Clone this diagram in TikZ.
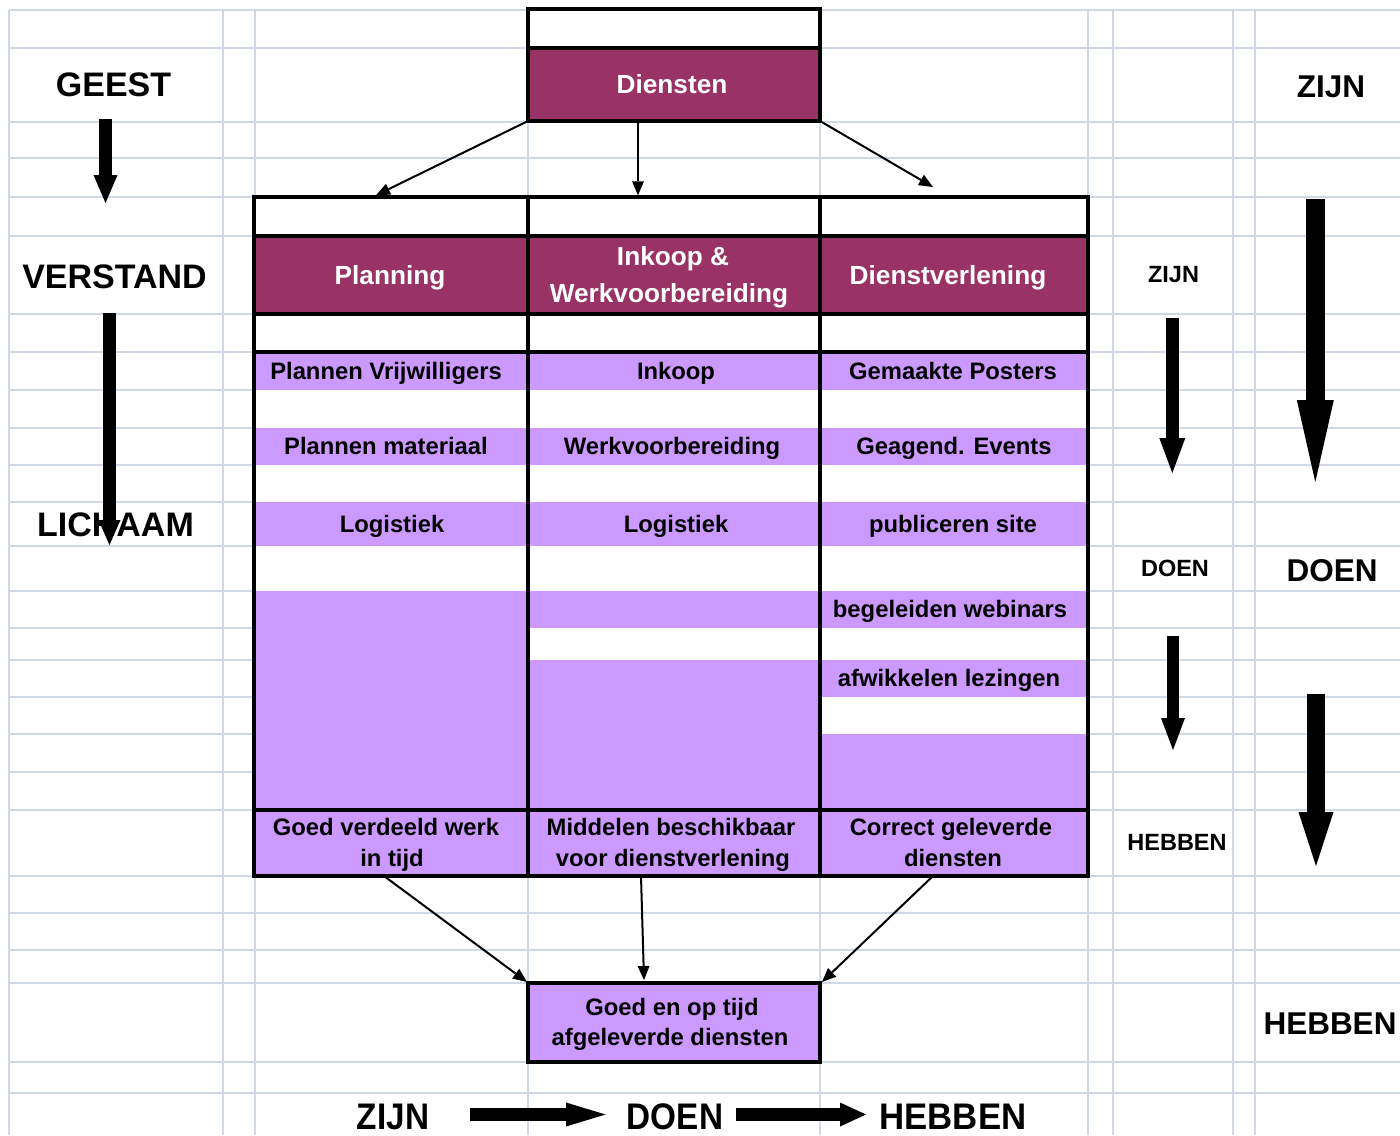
\documentclass[tikz,border=0pt]{standalone}
\usepackage{fontspec}
\usepackage{graphicx}
\setmainfont{Liberation Sans}
\usetikzlibrary{arrows.meta,calc}
\definecolor{gridc}{RGB}{208,215,229}
\definecolor{hdrc}{RGB}{153,51,102}
\definecolor{cellc}{RGB}{204,153,255}
\newcommand\capl[2][0]{\vphantom{H}\smash{\kern#1pt\relax#2\kern-#1pt\relax}}
\begin{document}
\begin{tikzpicture}[x=1pt,y=-1pt,
  grid/.style={draw=gridc, line width=2pt},
  tbl/.style={draw=black, line width=3.3pt},
  sz/.style 2 args={minimum width=#1pt, minimum height=#2pt},
  cellbase/.style={inner sep=0pt, outer sep=0pt, align=center},
  hdr/.style={cellbase, fill=hdrc, text=white, font=\bfseries\fontsize{26.2}{36.5}\selectfont},
  pcell/.style={cellbase, fill=cellc, text=black, font=\bfseries\fontsize{23.8}{31.5}\selectfont},
  wcell/.style={cellbase, fill=white},
  lbl/.style={inner sep=0pt, font=\bfseries\fontsize{34}{40}\selectfont},
  lblbig/.style={inner sep=0pt, font=\bfseries\fontsize{31.5}{38}\selectfont},
  lblsmall/.style={inner sep=0pt, font=\bfseries\fontsize{23.5}{28}\selectfont},
  lblbottom/.style={inner sep=0pt, font=\bfseries\fontsize{37}{44}\selectfont},
  conn/.style={draw=black, line width=2pt, -{Triangle[length=14pt,width=12pt,line width=0pt]}},
  barrow/.style n args={3}{draw=black, line width=#1pt, -{Triangle[length=#2pt,width=#3pt,line width=0pt]}}
]
\useasboundingbox (0,0) rectangle (1400,1135);
\fill[white] (0,0) rectangle (1400,1135);

% grid
\foreach \gx in {9,223,255,528,820,1088,1113,1233,1255}
  \draw[grid] (\gx,10) -- (\gx,1135);
\foreach \gy in {10,48,122,158,197,236,314,352,390,428,465,502,546,591,628,660,697,734,772,810,876,913,950,983,1062,1093}
  \draw[grid] (9,\gy) -- (1400,\gy);

% Diensten box
\node[wcell, sz={292}{39}] (dtop) at (674,28.5) {};
\node[hdr, sz={292}{73}] (dien) at (674,84.5) {\capl[-2]{Diensten}};

% main table background
\node[wcell, sz={834}{679}] (table) at (671,536.5) {};
% top white row
\node[wcell, sz={274}{39}] (t1) at (391,216.5) {};
\node[wcell, sz={292}{39}] (t2) at (674,216.5) {};
\node[wcell, sz={268}{39}] (t3) at (954,216.5) {};
% headers
\node[hdr, sz={274}{78}] (h1) at (391,275) {\capl[-1]{Planning}};
\node[hdr, sz={292}{78}] (h2) at (674,275) {\capl[-1]{Inkoop \&}\\\capl[-5]{Werkvoorbereiding}};
\node[hdr, sz={268}{78}] (h3) at (954,275) {\capl[-6]{Dienstverlening}};
% row 1
\node[pcell, sz={274}{38}] (p11) at (391,371) {\capl[-5]{Plannen Vrijwilligers}};
\node[pcell, sz={292}{38}] (p21) at (674,371) {\capl[2]{Inkoop}};
\node[pcell, sz={268}{38}] (p31) at (954,371) {\capl[-1]{Gemaakte Posters}};
% row 2
\node[pcell, sz={274}{37}] (p12) at (391,446.5) {\capl[-5]{Plannen materiaal}};
\node[pcell, sz={292}{37}] (p22) at (674,446.5) {\capl[-2]{Werkvoorbereiding}};
\node[pcell, sz={268}{37}] (p32) at (954,446.5) {\capl{Geagend. Events}};
% row 3
\node[pcell, sz={274}{44}] (p13) at (391,524) {\capl[1]{Logistiek}};
\node[pcell, sz={292}{44}] (p23) at (674,524) {\capl[2]{Logistiek}};
\node[pcell, sz={268}{44}] (p33) at (954,524) {\capl[-1]{publiceren site}};
% lower cells
\node[pcell, sz={274}{219}] (p14) at (391,700.5) {};
\node[pcell, sz={292}{37}] (p24) at (674,609.5) {};
\node[pcell, sz={292}{150}] (p25) at (674,735) {};
\node[pcell, sz={268}{37}] (p34) at (954,609.5) {\capl[-4]{begeleiden webinars}};
\node[pcell, sz={268}{37}] (p35) at (954,678.5) {\capl[-5]{afwikkelen lezingen}};
\node[pcell, sz={268}{76}] (p36) at (954,772) {};
% bottom row
\node[pcell, sz={274}{66}] (b1) at (391,843) {\capl[-5]{Goed verdeeld werk}\\\capl[1]{in tijd}};
\node[pcell, sz={292}{66}] (b2) at (674,843) {\capl[-3]{Middelen beschikbaar}\\\capl[-1]{voor dienstverlening}};
\node[pcell, sz={268}{66}] (b3) at (954,843) {\capl[-3]{Correct geleverde}\\\capl[-1]{diensten}};
% final box
\node[pcell, sz={292}{79}, font=\bfseries\fontsize{23.8}{30}\selectfont] (fin) at (674,1022.5) {\capl[-2]{Goed en op tijd}\\\capl[-4]{afgeleverde diensten}};

% connectors
\draw[conn] (dien.south west) -- ($(t1.north)+(-15,-1.7)$);
\draw[conn] ($(dien.south)+(-36,0)$) -- ($(t2.north)+(-36,-1.7)$);
\draw[conn] (dien.south east) -- ($(t3.north)+(-21,-10)$);
\draw[conn] ($(b1.south)+(-7,0)$) -- ($(fin.north west)+(-1,-1)$);
\draw[conn] ($(b2.south)+(-33,0)$) -- ($(fin.north)+(-30,-3)$);
\draw[conn] ($(b3.south)+(-21,0)$) -- ($(fin.north east)+(2,-1)$);

% borders
\draw[tbl] (dtop.north west) rectangle (dien.south east);
\draw[tbl] (dien.north west) -- (dien.north east);
\draw[tbl] (table.north west) rectangle (table.south east);
\draw[tbl] (t1.north east) -- (b1.south east);
\draw[tbl] (t2.north east) -- (b2.south east);
\draw[tbl] (h1.north west) -- (h3.north east);
\draw[tbl] (h1.south west) -- (h3.south east);
\draw[tbl] (p11.north west) -- (p31.north east);
\draw[tbl] (b1.north west) -- (b3.north east);
\draw[tbl] (fin.north west) rectangle (fin.south east);

% side labels
\node[lbl] (geest) at (113.5,85) {\capl{GEEST}};
\node[lbl] (verstand) at (114.5,276.5) {\capl{VERSTAND}};
\node[lbl] (lichaam) at (115.5,525) {\capl{LICHAAM}};
\node[lblbig] (zijnR) at (1331,86.5) {\capl{ZIJN}};
\node[lblbig] (doenR) at (1332,571) {\capl{DOEN}};
\node[lblbig] (hebbenR) at (1330,1024) {\capl{HEBBEN}};
\node[lblsmall] (zijnS) at (1173.5,274) {\capl{ZIJN}};
\node[lblsmall] (doenS) at (1175,568) {\capl{DOEN}};
\node[lblsmall] (hebbenS) at (1177,842) {\capl{HEBBEN}};
\node[lblbottom] (zijnB) at (393,1116.5) {\scalebox{0.9}[1]{\capl{ZIJN}}};
\node[lblbottom] (doenB) at (675,1116.5) {\scalebox{0.9}[1]{\capl{DOEN}}};
\node[lblbottom] (hebbenB) at (953,1116.5) {\scalebox{0.94}[1]{\capl{HEBBEN}}};

% block arrows
\coordinate (gA) at (105.5,119);   \coordinate (gB) at (105.5,203);
\coordinate (vA) at (109.5,313);   \coordinate (vB) at (109.5,545);
\coordinate (s1A) at (1172.3,318); \coordinate (s1B) at (1172.3,473);
\coordinate (s2A) at (1173,636);   \coordinate (s2B) at (1173,750);
\coordinate (r1A) at (1315.3,199); \coordinate (r1B) at (1315.3,482);
\coordinate (r2A) at (1316,694);   \coordinate (r2B) at (1316,866);
\coordinate (bAa) at (470,1114.5); \coordinate (bAb) at (605.5,1114.5);
\coordinate (bBa) at (736,1114.5); \coordinate (bBb) at (866,1114.5);
\draw[barrow={13}{28}{24}] (gA) -- (gB);
\draw[barrow={13}{25}{22}] (vA) -- (vB);
\draw[barrow={13}{35}{26}] (s1A) -- (s1B);
\draw[barrow={12.5}{32}{24}] (s2A) -- (s2B);
\draw[barrow={19}{82}{37}] (r1A) -- (r1B);
\draw[barrow={18}{54}{35}] (r2A) -- (r2B);
\draw[barrow={13}{39.5}{24}] (bAa) -- (bAb);
\draw[barrow={13}{26}{24}] (bBa) -- (bBb);
\end{tikzpicture}
\end{document}
